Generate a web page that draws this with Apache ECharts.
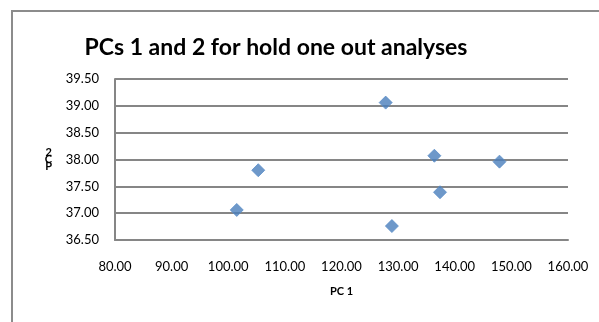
<!DOCTYPE html>
<html>
<head>
<meta charset="utf-8">
<script src="https://cdn.jsdelivr.net/npm/echarts@6/dist/echarts.min.js"></script>
<style>
  html, body { margin: 0; padding: 0; background: #fff; }
  #main { width: 599px; height: 322px; }
</style>
</head>
<body>
<div id="main"></div>
<script>
// PC scores
var pc1 = [127.8, 105.3, 101.5, 136.4, 147.9, 137.4, 128.9];
var pc2 = [39.06, 37.80, 37.06, 38.07, 37.96, 37.39, 36.76];
var xTicks = [80, 160, 10];   // min, max, step
var yTicks = [36.5, 39.5, 0.5];

var points = pc1.map(function (x, i) { return [x, pc2[i]]; });

var chart = echarts.init(document.getElementById("main"));
var font = "Lato, 'Open Sans', sans-serif";
chart.setOption({
  animation: false,
  title: {
    text: "PCs 1 and 2 for hold one out analyses",
    left: 271,
    textAlign: "center",
    top: 31,
    textStyle: { fontFamily: font, fontSize: 23, fontWeight: "bold", color: "#000" }
  },
  graphic: [
    {
      type: "rect",
      shape: { x: 12, y: 11, width: 600, height: 330 },
      style: { fill: "none", stroke: "#8c8c8c", lineWidth: 2 }
    }
  ],
  grid: { left: 115, right: 31, top: 79, bottom: 82 },
  xAxis: {
    type: "value",
    min: xTicks[0], max: xTicks[1], interval: xTicks[2],
    name: "PC 1",
    nameLocation: "middle",
    nameGap: 46,
    nameTextStyle: { fontFamily: font, fontSize: 11, fontWeight: "bold", color: "#000" },
    axisLine: { show: true, lineStyle: { color: "#868686", width: 2 } },
    axisTick: { show: false },
    splitLine: { show: false },
    axisLabel: {
      margin: 20,
      fontFamily: font, fontSize: 13, color: "#000",
      formatter: function (v) { return v.toFixed(2); }
    }
  },
  yAxis: {
    type: "value",
    min: yTicks[0], max: yTicks[1], interval: yTicks[2],
    name: "2\nC\nP",
    nameLocation: "middle",
    nameRotate: 0,
    nameGap: 63,
    nameTextStyle: { fontFamily: font, fontSize: 11, fontWeight: "bold", color: "#000", lineHeight: 7 },
    axisLine: { show: true, lineStyle: { color: "#868686", width: 2 } },
    axisTick: { show: false },
    splitLine: { show: true, lineStyle: { color: "#868686", width: 2 } },
    axisLabel: {
      margin: 16,
      fontFamily: font, fontSize: 13, color: "#000",
      formatter: function (v) { return v.toFixed(2); }
    }
  },
  series: [
    {
      type: "scatter",
      symbol: "diamond",
      symbolSize: 13,
      data: points,
      itemStyle: { color: "#4a7ebb", borderColor: "#5b8ec9", borderWidth: 1 }
    }
  ]
});
</script>
</body>
</html>
